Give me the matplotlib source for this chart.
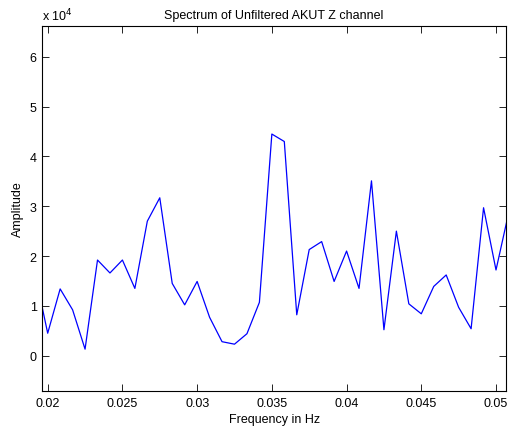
import numpy as np
import matplotlib
matplotlib.use('Agg')
import matplotlib.pyplot as plt
from matplotlib.ticker import FuncFormatter

# frequency bins are k/1200 Hz
bins = list(range(23, 62))
amplitude = [16300, 4500, 13400, 9200, 1300, 19200, 16600, 19200, 13500, 27000,
             31700, 14500, 10200, 14900, 7700, 2800, 2300, 4400, 10700, 44500,
             43000, 8200, 21300, 22900, 14900, 21000, 13500, 35100, 5200, 25000,
             10400, 8400, 13900, 16200, 9700, 5400, 29700, 17200, 28500]

freqs = np.array(bins) / 1200.0

plt.rcParams['font.family'] = ['Liberation Sans', 'DejaVu Sans']
plt.rcParams['font.size'] = 9

fig = plt.figure(figsize=(5.08, 4.27), dpi=100)
ax = fig.add_axes([0.0833, 0.082, 0.9128, 0.8548])
ax.plot(freqs, amplitude, color='#0000ff', lw=0.9)

ax.set_xlim(0.01964, 0.05067)
ax.set_ylim(-7100, 66200)
ax.set_xticks([0.02, 0.025, 0.03, 0.035, 0.04, 0.045, 0.05])
ax.set_xticklabels(['0.02', '0.025', '0.03', '0.035', '0.04', '0.045', '0.05'])
ax.set_yticks(np.arange(0, 70000, 10000))
ax.yaxis.set_major_formatter(FuncFormatter(lambda v, p: '%d' % round(v / 1e4)))
ax.tick_params(direction='in', length=5, width=0.6, top=True, right=True,
               labelsize=9, pad=4)
for s in ax.spines.values():
    s.set_linewidth(0.8)

ax.set_title('Spectrum of Unfiltered AKUT Z channel', fontsize=9, pad=6)
ax.set_xlabel('Frequency in Hz', fontsize=9, labelpad=3)
ax.set_ylabel('Amplitude', fontsize=9, labelpad=4)
fig.text(0.0833, 0.949, r'x 10$^{4}$', fontsize=9, ha='left', va='baseline')

fig.savefig('out.png', dpi=100)
